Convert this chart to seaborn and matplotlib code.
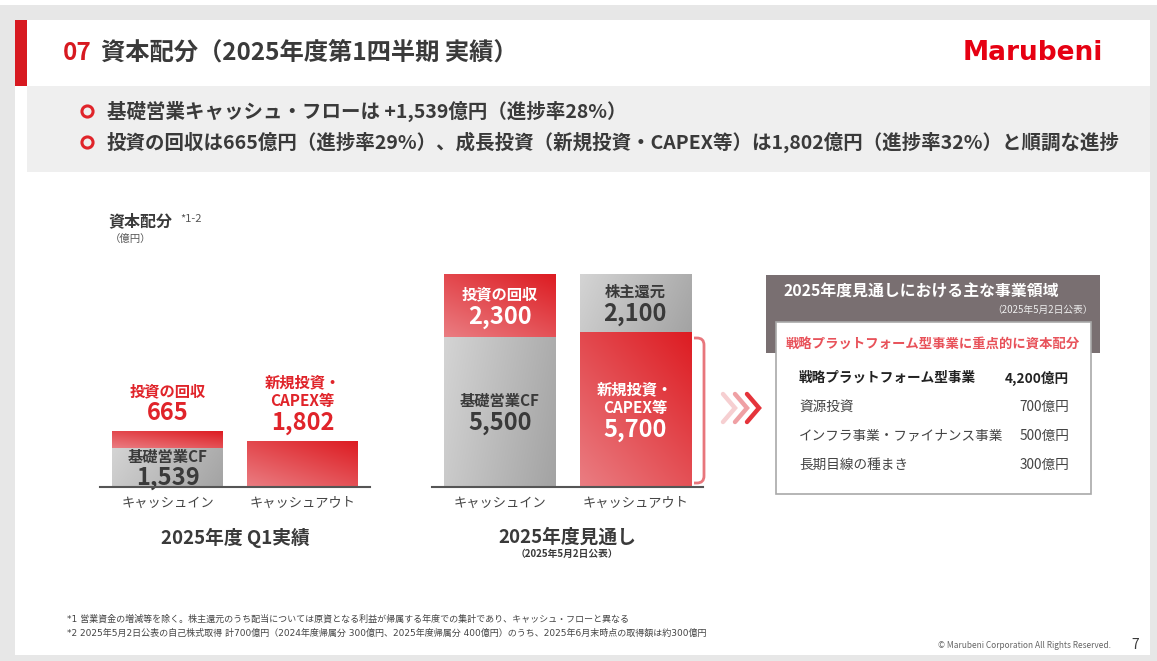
import numpy as np
import pandas as pd
import matplotlib
matplotlib.use('Agg')
import matplotlib.pyplot as plt
import seaborn as sns
from matplotlib.colors import to_rgb
from matplotlib.patches import Rectangle, PathPatch
from matplotlib.path import Path

# ---- data ----
categories = ['キャッシュイン', 'キャッシュアウト']
q1_base = [1539, 1802]
q1_top = [665, 0]
q1_base_names = ['基礎営業CF', '新規投資・\nCAPEX等']
q1_top_names = ['投資の回収', '']
plan_base = [5500, 5700]
plan_top = [2300, 2100]
plan_base_names = ['基礎営業CF', '新規投資・\nCAPEX等']
plan_top_names = ['投資の回収', '株主還元']
base_kinds = ['gray', 'red']
q1_top_kinds = ['red', None]
plan_top_kinds = ['red', 'gray']

area_names = ['戦略プラットフォーム型事業', '資源投資', 'インフラ事業・ファイナンス事業', '長期目線の種まき']
area_values = [4200, 700, 500, 300]

W, H = 1157, 661
RED = '#e0242a'
DARK = '#3a3a3a'

sns.set_style('white')
plt.rcParams['font.family'] = ['Noto Sans CJK JP', 'DejaVu Sans']

fig = plt.figure(figsize=(W / 100, H / 100), dpi=100)
fig.patch.set_facecolor('#e7e7e7')

# background / decoration layer in pixel coords
bg = fig.add_axes([0, 0, 1, 1], zorder=-1)
bg.set_xlim(0, W)
bg.set_ylim(H, 0)
bg.axis('off')

bg.add_patch(Rectangle((0, 0), W, 5, color='white', lw=0))
bg.add_patch(Rectangle((15, 20), 1135, 635, color='white', lw=0))
bg.add_patch(Rectangle((15, 20), 12, 66, color='#d71920', lw=0))
bg.add_patch(Rectangle((27, 86), 1123, 86, color='#efefef', lw=0))

bg.text(63, 53, '07', color='#d71920', fontsize=17.5, fontweight='bold', va='center')
bg.text(101, 53, '資本配分（2025年度第1四半期 実績）', color=DARK, fontsize=17.5,
        fontweight='bold', va='center')
bg.text(1103, 53, 'Marubeni', color='#e60012', fontsize=19, fontweight='heavy',
        family='DejaVu Sans', ha='right', va='center')

bullets = ['基礎営業キャッシュ・フローは +1,539億円（進捗率28%）',
           '投資の回収は665億円（進捗率29%）、成長投資（新規投資・CAPEX等）は1,802億円（進捗率32%）と順調な進捗']
for yy, txt in zip([111, 142], bullets):
    bg.plot(87, yy, 'o', ms=8, mfc='#efefef', mec='#e0242a', mew=2.2)
    bg.text(107, yy, txt, color=DARK, fontsize=14, fontweight='bold', va='center')

bg.text(108, 221, '資本配分', color=DARK, fontsize=11.5, fontweight='bold', va='center')
bg.text(180, 219, '*1-2', color='#555555', fontsize=8, va='center')
bg.text(110, 239, '（億円）', color='#555555', fontsize=7.5, va='center')


def gradient(ax, x0, w, y0, y1, kind):
    if y1 <= y0 or kind is None:
        return
    n = 64
    xx, yy = np.meshgrid(np.linspace(0, 1, n), np.linspace(0, 1, n))
    if kind == 'red':
        c0, c1 = np.array(to_rgb('#ea7d82')), np.array(to_rgb('#dd1c22'))
        t = 0.45 * xx + 0.55 * yy
    else:
        c0, c1 = np.array(to_rgb('#d4d4d4')), np.array(to_rgb('#a3a3a3'))
        t = 0.8 * xx + 0.2 * (1 - yy)
    img = c0 + (c1 - c0) * t[..., None]
    ax.imshow(img, extent=[x0, x0 + w, y0, y1], origin='lower', aspect='auto',
              interpolation='bilinear', zorder=2)


def put(ax, x, y, dy, txt, color, size):
    ax.annotate(txt, xy=(x, y), xytext=(0, dy), textcoords='offset pixels',
                ha='center', va='center', color=color, fontsize=size,
                fontweight='bold', annotation_clip=False, zorder=5)


def draw_group(rect, ylim, base, top, base_names, top_names, top_kinds, outside_red):
    ax = fig.add_axes(rect)
    ax.patch.set_alpha(0)
    df = pd.DataFrame({'cat': categories, 'base': base,
                       'total': [b + t for b, t in zip(base, top)]})
    sns.barplot(data=df, x='cat', y='total', color='white', width=0.82, ax=ax)
    sns.barplot(data=df, x='cat', y='base', color='white', width=0.82, ax=ax)
    patches = list(ax.patches)
    for i in range(len(categories)):
        p = patches[i]
        x0, w = p.get_x(), p.get_width()
        gradient(ax, x0, w, 0, base[i], base_kinds[i])
        gradient(ax, x0, w, base[i], base[i] + top[i], top_kinds[i])
    for p in patches:
        p.set_alpha(0)
    ax.set_ylim(0, ylim)
    ax.set_xlim(-0.5, 1.5)
    ax.set_xlabel('')
    ax.set_ylabel('')
    ax.set_yticks([])
    for s in ['left', 'right', 'top']:
        ax.spines[s].set_visible(False)
    ax.spines['bottom'].set_color('#555555')
    ax.spines['bottom'].set_linewidth(1.5)
    ax.spines['bottom'].set_zorder(6)
    ax.tick_params(axis='x', length=0, pad=7, labelsize=9.5, labelcolor='#444444')

    for i in range(len(categories)):
        segs = [(0, base[i], base_names[i], base_kinds[i]),
                (base[i], base[i] + top[i], top_names[i], top_kinds[i])]
        for y0, y1, name, kind in segs:
            if y1 <= y0:
                continue
            lines = name.split('\n')[::-1]
            offs = [0] + [22 + 19 * k for k in range(len(lines))]
            if kind == 'red' and outside_red:
                # label stacked above the bar top
                yref, v, col = base[i] + top[i], 18, RED
            else:
                yref, v = (y0 + y1) / 2, -np.mean(offs)
                col = 'white' if kind == 'red' else DARK
            put(ax, i, yref, v, f'{y1 - y0:,}', col, 17)
            for k, ln in enumerate(lines):
                put(ax, i, yref, v + offs[k + 1], ln, col, 11)
    return ax


def frect(x0, x1, ytop, ybot):
    return [x0 / W, 1 - ybot / H, (x1 - x0) / W, (ybot - ytop) / H]


draw_group(frect(100, 370, 269, 487), 8600, q1_base, q1_top, q1_base_names,
           q1_top_names, q1_top_kinds, True)
draw_group(frect(432, 703, 269, 487), 8000, plan_base, plan_top, plan_base_names,
           plan_top_names, plan_top_kinds, False)

bg.text(235, 538, '2025年度 Q1実績', color=DARK, fontsize=13.5, fontweight='bold',
        ha='center', va='center')
bg.text(567, 537, '2025年度見通し', color=DARK, fontsize=13.5, fontweight='bold',
        ha='center', va='center')
bg.text(567, 554, '（2025年5月2日公表）', color=DARK, fontsize=7, fontweight='bold',
        ha='center', va='center')

# bracket next to the growth investment bar
xl, xr, yt, yb, r = 694, 704, 338, 483, 7
verts = [(xl, yt), (xr - r, yt), (xr, yt), (xr, yt + r), (xr, yb - r), (xr, yb), (xr - r, yb), (xl, yb)]
codes = [Path.MOVETO, Path.LINETO, Path.CURVE3, Path.CURVE3, Path.LINETO, Path.CURVE3, Path.CURVE3, Path.LINETO]
bg.add_patch(PathPatch(Path(verts, codes), fc='none', ec='#e8767c', lw=2))

# chevrons
for k, c in enumerate(['#f6cfd1', '#efa0a4', '#e5343b']):
    x0 = 723 + 12 * k
    bg.plot([x0, x0 + 12, x0], [394, 408, 422], color=c, lw=3.2, solid_joinstyle='miter')

# business area box
bg.add_patch(Rectangle((766, 275), 334, 78, color='#796f71', lw=0))
bg.text(783, 291, '2025年度見通しにおける主な事業領域', color='white', fontsize=11.4,
        fontweight='bold', va='center')
bg.text(1093, 310, '（2025年5月2日公表）', color='#eeeeee', fontsize=7, ha='right', va='center')
bg.add_patch(Rectangle((776, 322), 315, 172, fc='white', ec='#a9a9a9', lw=1.2))
bg.text(786, 345, '戦略プラットフォーム型事業に重点的に資本配分', color='#e8525a',
        fontsize=9.6, fontweight='bold', va='center')
for k, (nm, val) in enumerate(zip(area_names, area_values)):
    yy = 378 + 29 * k
    wt = 'bold' if k == 0 else 'normal'
    col = '#222222' if k == 0 else '#444444'
    bg.text(799, yy, nm, color=col, fontsize=9.8, fontweight=wt, va='center')
    bg.text(1069, yy, f'{val:,}億円', color=col, fontsize=9.8, fontweight=wt, ha='right', va='center')

# footnotes
fn_font = ['DejaVu Sans', 'Noto Sans CJK JP']
bg.text(67, 619, '*1 営業資金の増減等を除く。株主還元のうち配当については原資となる利益が帰属する年度での集計であり、キャッシュ・フローと異なる',
        color='#444444', fontsize=6.5, family=fn_font, va='center')
bg.text(67, 633, '*2 2025年5月2日公表の自己株式取得 計700億円（2024年度帰属分 300億円、2025年度帰属分 400億円）のうち、2025年6月末時点の取得額は約300億円',
        color='#444444', fontsize=6.5, family=fn_font, va='center')
bg.text(1111, 645, '© Marubeni Corporation All Rights Reserved.', color='#666666',
        fontsize=6, ha='right', va='center')
bg.text(1135, 645, '7', color=DARK, fontsize=10, ha='center', va='center')

fig.savefig('out.png', dpi=100, facecolor=fig.get_facecolor())
